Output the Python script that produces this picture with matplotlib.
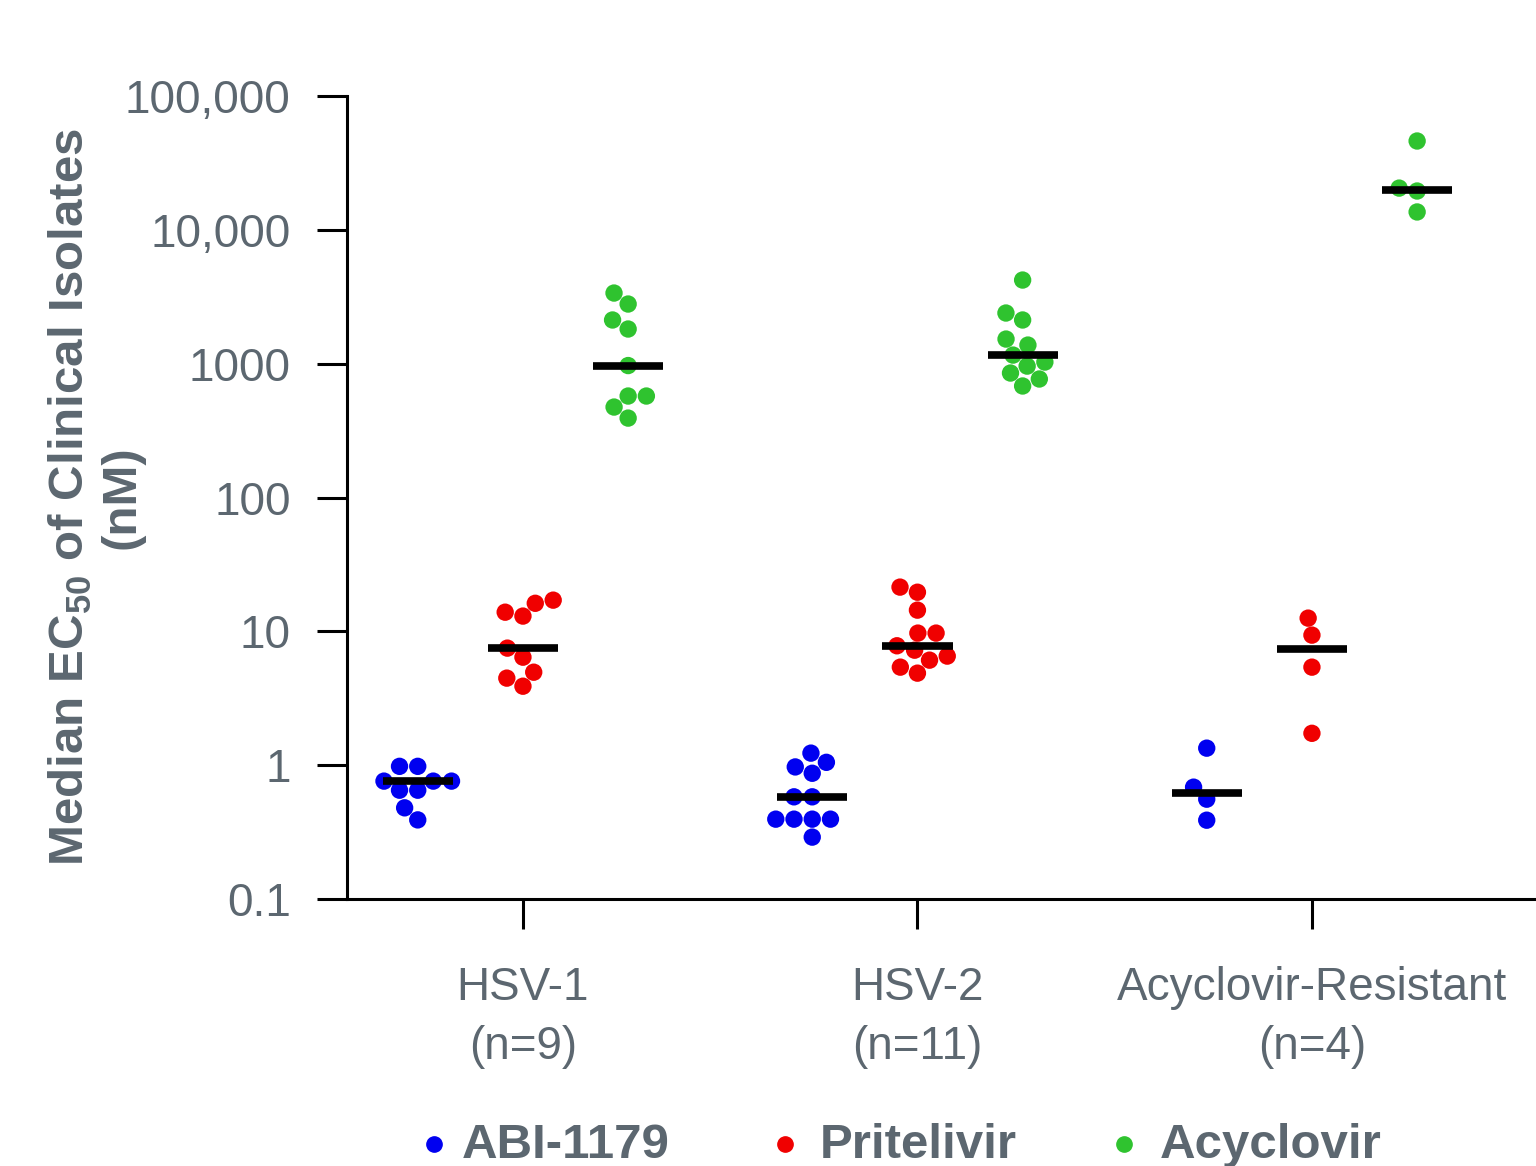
import matplotlib.pyplot as plt
import numpy as np
import pandas as pd
import seaborn as sns
from matplotlib.lines import Line2D

plt.rcParams['font.family'] = ['Liberation Sans', 'DejaVu Sans']
plt.rcParams['mathtext.fontset'] = 'custom'
plt.rcParams['mathtext.rm'] = 'Liberation Sans'
plt.rcParams['mathtext.bf'] = 'Liberation Sans:bold'

groups = ['HSV-1\n(n=9)', 'HSV-2\n(n=11)', 'Acyclovir-Resistant\n(n=4)']
drugs = ['ABI-1179', 'Pritelivir', 'Acyclovir']
colors = ['#0000f0', '#f00000', '#2fc32f']
yticks = [0.1, 1, 10, 100, 1000, 10000, 100000]
ytick_labels = ['0.1', '1', '10', '100', '1000', '10,000', '100,000']

# EC50 (nM) of each clinical isolate, one list per virus group
abi_1179 = [
    [0.76, 0.76, 0.76, 0.98, 0.98, 0.65, 0.65, 0.48, 0.39],
    [1.05, 1.23, 0.87, 0.97, 0.58, 0.58, 0.395, 0.395, 0.395, 0.395, 0.29],
    [1.34, 0.685, 0.557, 0.388],
]
pritelivir = [
    [13.9, 16.2, 17.1, 13.0, 7.49, 6.41, 4.95, 4.47, 3.89],
    [19.6, 21.4, 14.4, 9.7, 9.7, 7.8, 7.23, 6.53, 6.09, 5.40, 4.87],
    [12.55, 9.37, 5.40, 1.73],
]
acyclovir = [
    [3370, 2790, 2120, 1815, 968, 573, 573, 474, 392],
    [4215, 2390, 2120, 1527, 1377, 1159, 1028, 959, 851, 768, 681],
    [46100, 20500, 19500, 13600],
]

series = [abi_1179, pritelivir, acyclovir]
rows = []
for drug, per_group in zip(drugs, series):
    for grp, vals in zip(groups, per_group):
        for v in vals:
            rows.append((grp, drug, v))
df = pd.DataFrame(rows, columns=['group', 'drug', 'ec50'])

W, H = 1536, 1166
fig = plt.figure(figsize=(W / 100, H / 100), dpi=100)
ax = fig.add_axes([347 / W, 267 / H, 1 - 347 / W, (899 - 96) / H])
ax.set_yscale('log')
ax.set_ylim(0.1, 1e5)

sns.swarmplot(data=df, x='group', y='ec50', hue='drug', order=groups,
              hue_order=drugs, palette=colors, dodge=True, size=12.5,
              linewidth=0, ax=ax, legend=False, zorder=3)

ax.set_xlim(-0.446, 2.568)
ax.set_ylim(0.1, 1e5)

# median bars
offsets = (np.arange(3) - 1) * 0.8 / 3
for gi in range(len(groups)):
    for di, vals in enumerate(series):
        xc = gi + offsets[di]
        ax.hlines(np.median(vals[gi]), xc - 0.089, xc + 0.089,
                  color='black', lw=5.5, zorder=5)

txt = '#5c6770'
for side in ['top', 'right']:
    ax.spines[side].set_visible(False)
for side in ['left', 'bottom']:
    ax.spines[side].set_linewidth(2.2)
    ax.spines[side].set_color('black')

ax.set_yticks(yticks)
ax.set_yticklabels(ytick_labels)
ax.yaxis.set_minor_locator(plt.NullLocator())
ax.set_xticks(range(len(groups)))
ax.set_xticklabels(groups, linespacing=1.42)
ax.tick_params(axis='both', length=21.5, width=2.2, color='black',
               labelsize=33, labelcolor=txt)
ax.tick_params(axis='y', pad=19)
ax.tick_params(axis='x', pad=27)
ax.set_xlabel('')
ax.set_ylabel('')

fig.text(96 / W, 1 - 497 / H,
         'Median EC$_{\\mathbf{50}}$ of Clinical Isolates\n(nM)',
         rotation=90, rotation_mode='anchor', ha='center', va='center',
         multialignment='center', fontsize=35.5, fontweight='bold',
         color=txt, linespacing=1.15)

# legend row along the bottom edge
leg_marker_x = [434, 785, 1124]
leg_text_x = [462, 820, 1160]
for mx, tx, name, c in zip(leg_marker_x, leg_text_x, drugs, colors):
    fig.add_artist(Line2D([mx / W], [1 - 1144 / H], marker='o', color=c,
                          markersize=11, linestyle='none',
                          transform=fig.transFigure))
    fig.text(tx / W, 1 - 1158 / H, name, ha='left', va='baseline',
             fontsize=35.5, fontweight='bold', color=txt)

fig.savefig('out.png', dpi=100)
